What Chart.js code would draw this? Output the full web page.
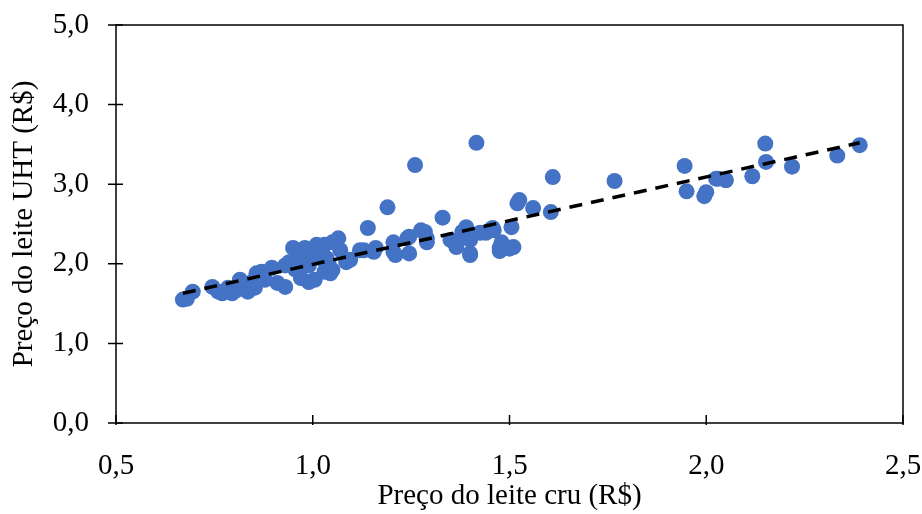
<!DOCTYPE html>
<html>
<head>
<meta charset="utf-8">
<script src="https://cdn.jsdelivr.net/npm/chart.js@4"></script>
<style>
  html, body { margin: 0; padding: 0; background: #fff; }
  #wrap { width: 922px; height: 514px; }
</style>
</head>
<body>
<div id="wrap"><canvas id="chart"></canvas></div>
<script>
// preço do leite cru (x) e UHT (y)
const rawPrice = [
  0.67, 0.68, 0.695, 0.745, 0.76, 0.77, 0.785, 0.795, 0.807, 0.815, 0.82, 0.835, 0.845, 0.853, 0.857, 0.87, 0.878, 0.896,
  0.91, 0.93, 0.93, 0.94, 0.95, 0.96, 0.97, 0.98, 0.99, 0.99, 1.00, 1.01, 1.02, 1.03, 1.035, 1.04, 1.05, 1.05, 1.065, 1.07,
  1.085, 1.095, 1.12, 1.14, 1.005, 0.97, 0.955, 1.045, 1.03,
  1.13, 1.155, 1.16, 1.19, 1.205, 1.21, 1.205, 1.24, 1.245, 1.245, 1.26, 1.275, 1.285, 1.29, 1.29, 1.33, 1.35, 1.36, 1.365,
  1.365, 1.38, 1.39, 1.40, 1.40, 1.40, 1.416, 1.425, 1.44, 1.45, 1.457, 1.46, 1.475, 1.475, 1.48, 1.505, 1.51, 1.50, 1.52,
  1.525, 1.56, 1.605, 1.61,
  1.767, 1.945, 1.95, 1.995, 2.00, 2.025, 2.03, 2.05, 2.117, 2.15, 2.152, 2.218, 2.333, 2.39
];
const uhtPrice = [
  1.55, 1.56, 1.65, 1.71, 1.65, 1.63, 1.70, 1.63, 1.67, 1.80, 1.71, 1.65, 1.77, 1.70, 1.88, 1.90, 1.80, 1.95,
  1.76, 1.71, 1.98, 2.02, 2.20, 1.95, 2.13, 2.20, 1.77, 1.98, 2.15, 2.24, 2.07, 2.24, 2.07, 2.01, 1.92, 2.27, 2.32, 2.17,
  2.02, 2.05, 2.17, 2.45, 1.80, 1.82, 1.93, 1.88, 1.90,
  2.17, 2.15, 2.20, 2.71, 2.27, 2.11, 2.15, 2.32, 2.13, 2.34, 3.24, 2.42, 2.40, 2.32, 2.27, 2.58, 2.30, 2.27, 2.21,
  2.24, 2.40, 2.46, 2.13, 2.30, 2.11, 3.52, 2.39, 2.39, 2.42, 2.45, 2.42, 2.20, 2.16, 2.27, 2.46, 2.21, 2.19, 2.76,
  2.80, 2.70, 2.65, 3.09,
  3.04, 3.23, 2.91, 2.85, 2.90, 3.07, 3.07, 3.05, 3.10, 3.51, 3.28, 3.22, 3.36, 3.49
];
// linha de tendência (extremos)
const trendX = [0.67, 2.39];
const trendY = [1.63, 3.52];

const xTicks = [0.5, 1.0, 1.5, 2.0, 2.5];
const yTicks = [0, 1, 2, 3, 4, 5];

const FONT = "'Liberation Serif', 'Times New Roman', serif";
const fmt = v => Number(v).toFixed(1).replace(".", ",");

const points = rawPrice.map((x, i) => ({ x, y: uhtPrice[i] }));
const trend = trendX.map((x, i) => ({ x, y: trendY[i] }));

// sem folga extra dos rótulos: a área do gráfico fica só com o padding do layout
function noOverflow(s) {
  s.paddingLeft = 0;
  s.paddingRight = 0;
  s.paddingTop = 0;
  s.paddingBottom = 0;
}

// caixa do gráfico + marcas de escala cruzando o eixo
const frame = {
  id: "frame",
  afterDatasetsDraw(chart) {
    const { ctx, chartArea: a, scales } = chart;
    ctx.save();
    ctx.strokeStyle = "#000";
    ctx.lineWidth = 1.5;
    ctx.strokeRect(a.left, a.top, a.right - a.left, a.bottom - a.top);
    ctx.beginPath();
    yTicks.forEach(v => {
      const y = scales.y.getPixelForValue(v);
      ctx.moveTo(a.left - 8, y);
      ctx.lineTo(a.left + 7, y);
    });
    xTicks.forEach(v => {
      const x = scales.x.getPixelForValue(v);
      ctx.moveTo(x, a.bottom + 2);
      ctx.lineTo(x, a.bottom - 8);
    });
    ctx.stroke();
    ctx.restore();
  }
};

new Chart(document.getElementById("chart"), {
  type: "scatter",
  data: {
    datasets: [
      {
        type: "line",
        data: trend,
        borderColor: "#000",
        borderWidth: 3.5,
        borderDash: [13, 9],
        pointRadius: 0,
        fill: false,
        order: 0
      },
      {
        data: points,
        backgroundColor: "#4472C4",
        borderColor: "#4472C4",
        borderWidth: 0,
        pointRadius: 8,
        order: 1
      }
    ]
  },
  options: {
    responsive: true,
    maintainAspectRatio: false,
    animation: false,
    layout: { padding: { top: 25, right: 19, bottom: 0, left: 0 } },
    plugins: { legend: { display: false }, tooltip: { enabled: false } },
    scales: {
      x: {
        type: "linear",
        min: 0.5,
        max: 2.5,
        afterBuildTicks: s => { s.ticks = xTicks.map(value => ({ value })); },
        afterFit: s => { s.height = 91; noOverflow(s); },
        grid: { display: false },
        border: { display: false },
        ticks: { color: "#000", font: { family: FONT, size: 29 }, padding: 18, callback: fmt, maxRotation: 0 },
        title: { display: true, text: "Preço do leite cru (R$)", color: "#000", font: { family: FONT, size: 29 }, padding: { top: 0, bottom: 0 } }
      },
      y: {
        min: 0,
        max: 5,
        afterBuildTicks: s => { s.ticks = yTicks.map(value => ({ value })); },
        afterFit: s => { s.width = 116; noOverflow(s); },
        grid: { display: false },
        border: { display: false },
        ticks: { color: "#000", font: { family: FONT, size: 29 }, padding: 19, callback: fmt },
        title: { display: true, text: "Preço do leite UHT (R$)", color: "#000", font: { family: FONT, size: 29 }, padding: { top: 7, bottom: 0 } }
      }
    }
  },
  plugins: [frame]
});
</script>
</body>
</html>
